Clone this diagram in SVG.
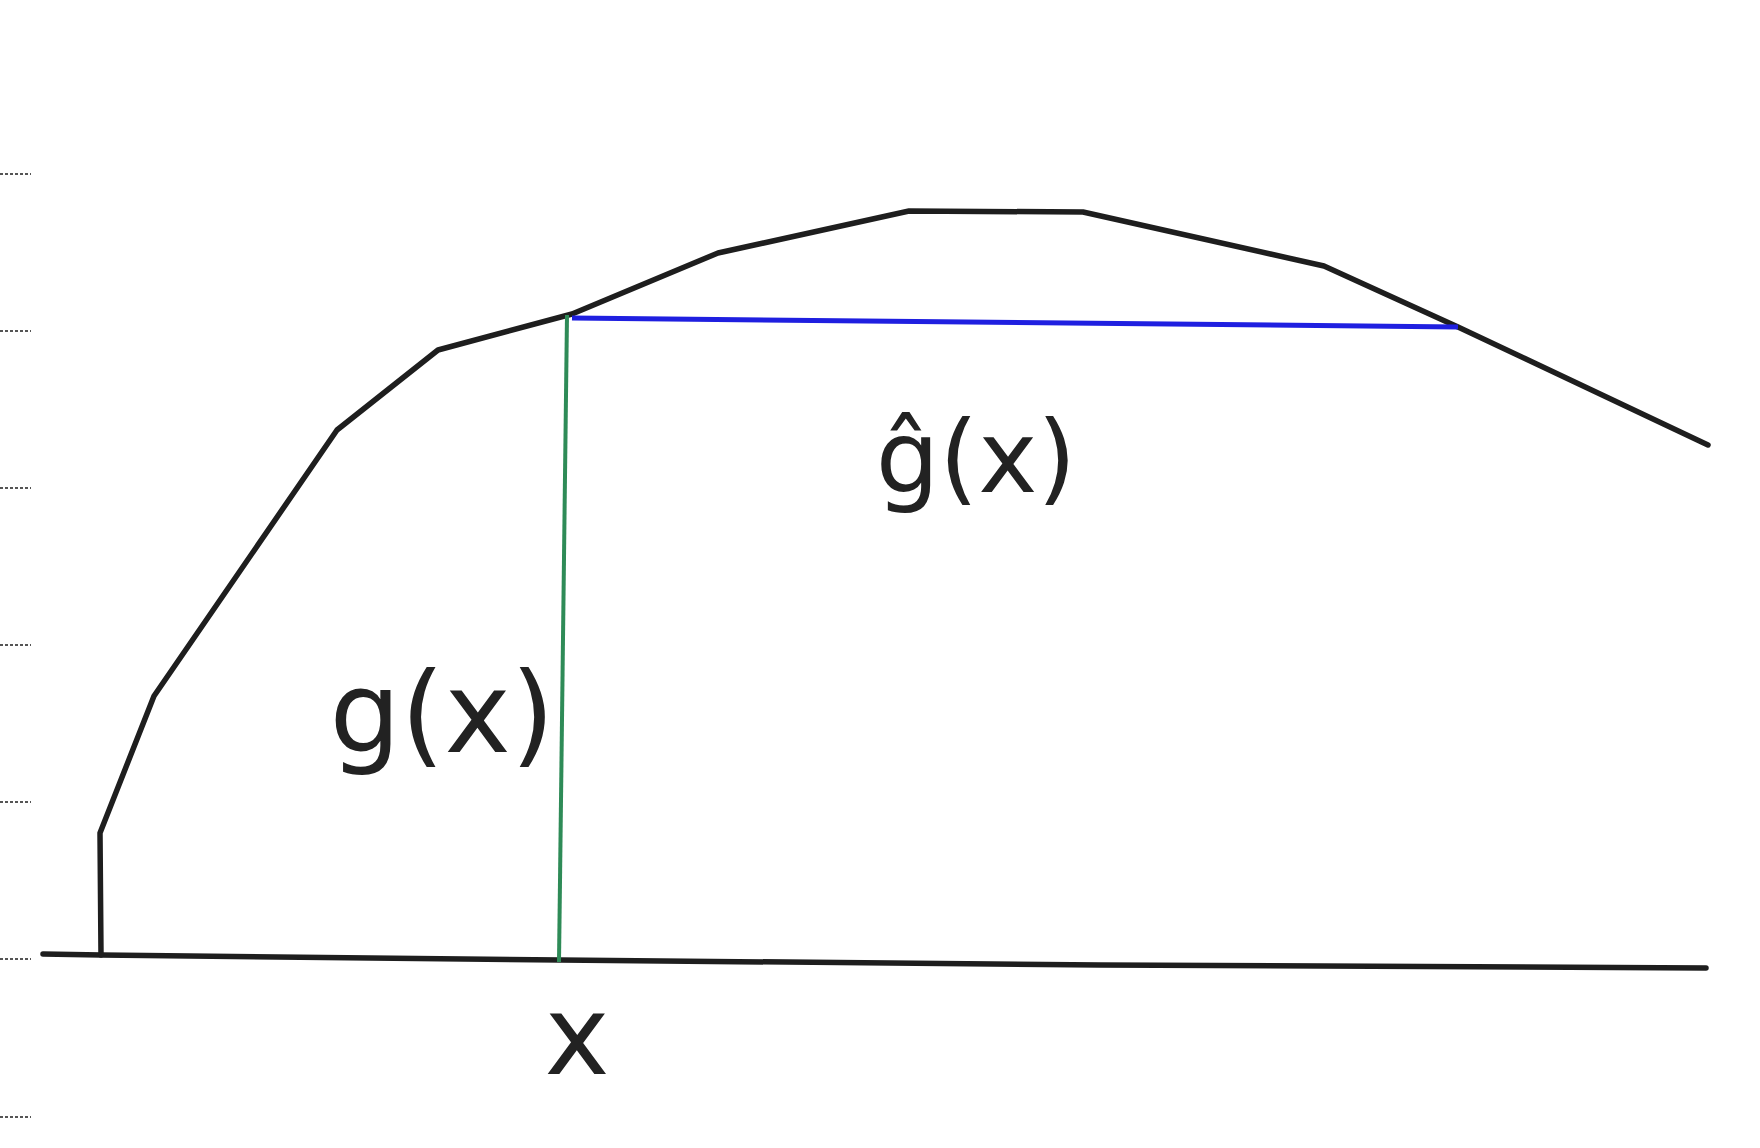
<svg xmlns="http://www.w3.org/2000/svg" width="1760" height="1148" viewBox="0 0 1760 1148">
<style>
.tick{stroke:#555;stroke-width:2;stroke-dasharray:3 2;fill:none}
.ink{stroke:#1e1e1e;stroke-width:5.5;fill:none;stroke-linecap:round;stroke-linejoin:round}
.lbl{font-family:"DejaVu Sans","Liberation Sans",sans-serif;fill:#222;text-anchor:middle}
</style>
<rect width="1760" height="1148" fill="#ffffff"/>
<g id="ticks">
<line class="tick" x1="0" y1="174" x2="31" y2="174"/>
<line class="tick" x1="0" y1="331" x2="31" y2="331"/>
<line class="tick" x1="0" y1="488" x2="31" y2="488"/>
<line class="tick" x1="0" y1="645" x2="31" y2="645"/>
<line class="tick" x1="0" y1="802" x2="31" y2="802"/>
<line class="tick" x1="0" y1="959" x2="31" y2="959"/>
<line class="tick" x1="0" y1="1117" x2="31" y2="1117"/>
</g>
<g id="axis">
<path class="ink" d="M43 954 L101 955 L560 960 L1100 965 L1706 968"/>
</g>
<g id="curve">
<path class="ink" d="M101 955 L100 833 L154 696 L337 430 L438 350 L572 314 L718 253 L909 211 L1083 212 L1324 266 L1458 327 L1526 359 L1708 445"/>
</g>
<g id="connectors">
<path d="M567 315 L559 962" stroke="#2e8b57" stroke-width="4" fill="none"/>
<path d="M572 318 L1458 327" stroke="#1f1fe0" stroke-width="5" fill="none"/>
</g>
<g id="label-ghat">
<text class="lbl" x="976" y="492" font-size="100">ĝ(x)</text>
</g>
<g id="label-g">
<text class="lbl" x="442" y="752" font-size="112">g(x)</text>
</g>
<g id="label-x">
<text class="lbl" x="577" y="1074" font-size="110">x</text>
</g>
</svg>
